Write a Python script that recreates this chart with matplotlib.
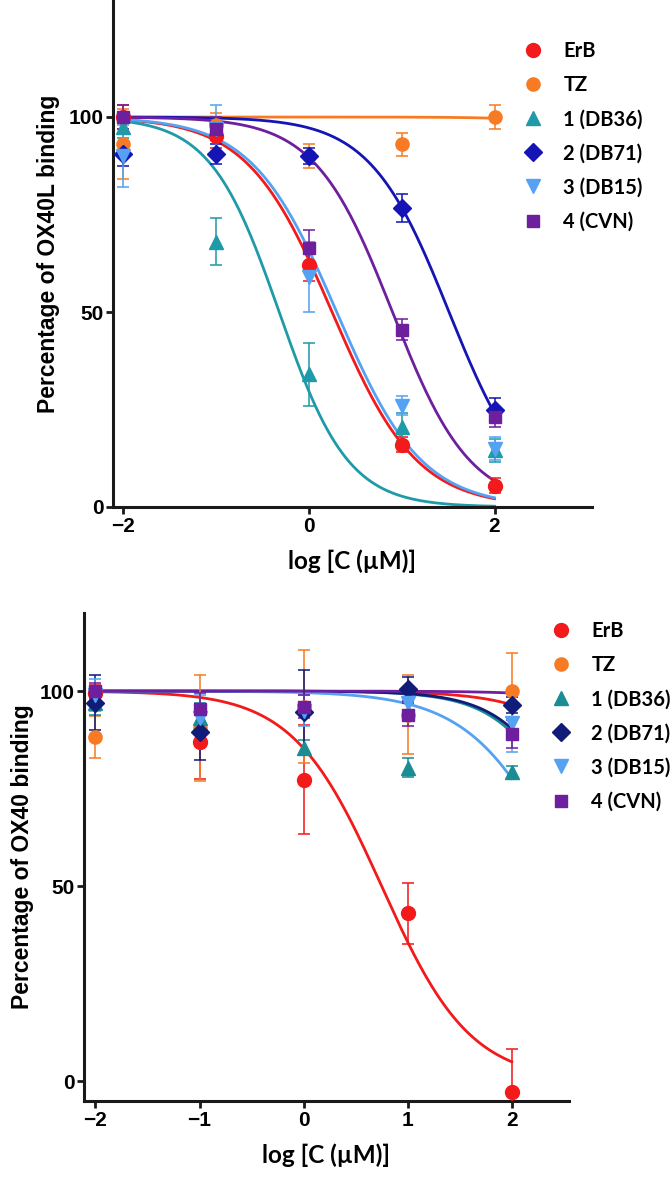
import numpy as np
import matplotlib
matplotlib.use('Agg')
import matplotlib.pyplot as plt
from matplotlib.lines import Line2D
from matplotlib.font_manager import FontProperties

# log concentration (uM)
log_c = [-2, -1, 0, 1, 2]
labels = ['ErB', 'TZ', '1 (DB36)', '2 (DB71)', '3 (DB15)', '4 (CVN)']

# top panel: OX40L binding (%)
ox40l_mean = {
    'ErB':      [100, 95, 62, 16, 5.5],
    'TZ':       [93, 98, 90, 93, 100],
    '1 (DB36)': [97.5, 68, 34, 20.5, 14.5],
    '2 (DB71)': [90.5, 90.5, 90, 76.7, 25],
    '3 (DB15)': [90, 97, 59, 26, 15],
    '4 (CVN)':  [100, 97, 66.5, 45.5, 23],
}
ox40l_err = {
    'ErB':      [3, 3, 4, 2, 2],
    'TZ':       [9, 3, 3, 3, 3],
    '1 (DB36)': [3, 6, 8, 3.5, 3],
    '2 (DB71)': [3, 2.5, 2, 3.5, 3],
    '3 (DB15)': [8, 6, 9, 2.5, 3],
    '4 (CVN)':  [3, 3, 4.5, 2.7, 2.5],
}
# fitted curves: logIC50, hill slope
ox40l_ic50 = [0.25, 4.5, -0.32, 1.51, 0.30, 0.90]
ox40l_hill = [0.95, 1.0, 1.17, 1.02, 0.95, 1.04]

# bottom panel: OX40 binding (%)
ox40_mean = {
    'ErB':      [99.5, 87, 77.3, 43.1, -2.6],
    'TZ':       [88.3, 90.5, 96, 94, 100],
    '1 (DB36)': [97, 93, 85.5, 80.4, 79.3],
    '2 (DB71)': [97, 89.4, 94.6, 100.5, 96.4],
    '3 (DB15)': [99, 93, 95, 97, 91.8],
    '4 (CVN)':  [100, 95.4, 96, 94, 89],
}
ox40_err = {
    'ErB':      [2, 9.5, 14, 7.8, 10.8],
    'TZ':       [5.4, 13.5, 14.5, 10, 9.7],
    '1 (DB36)': [3, 4, 2, 2.5, 1.5],
    '2 (DB71)': [7, 7, 10.8, 3, 2],
    '3 (DB15)': [4, 6, 4, 3, 7.5],
    '4 (CVN)':  [2, 4, 3, 3, 3.5],
}
ox40_ic50 = [0.75, 3.44, 2.77, 2.81, 2.58, 4.3]
ox40_hill = [1.02, 1.0, 1.2, 1.2, 0.93, 1.0]

markers = ['o', 'o', '^', 'D', 'v', 's']
msizes = [10, 9.5, 10, 9, 10, 8.5]
colors_top = ['#f21a1a', '#f77b25', '#1f9aa8', '#1515b5', '#55a2f2', '#6e1f9e']
colors_bot = ['#f21a1a', '#f77b25', '#1a8c94', '#101c78', '#55a2f2', '#6e1f9e']
curve_bot = ['#f21a1a', '#f21a1a', '#1a8c94', '#101c78', '#55a2f2', '#6e1f9e']

tick_fp = FontProperties(family='Liberation Sans', weight='bold', size=15)
lab_font = {'family': 'Liberation Sans', 'weight': 'bold', 'size': 16.5}
cal_font = {'family': 'Lato', 'weight': 'bold', 'size': 17.5}


def style_axes(ax, xticks):
    for s in ['top', 'right']:
        ax.spines[s].set_visible(False)
    for s in ['left', 'bottom']:
        ax.spines[s].set_linewidth(2.2)
        ax.spines[s].set_color('#1a1a1a')
    ax.tick_params(width=2.0, length=5, direction='out', color='#1a1a1a', pad=2)
    ax.set_xticks(xticks)
    ax.set_yticks([0, 50, 100])
    for t in ax.get_xticklabels() + ax.get_yticklabels():
        t.set_fontproperties(tick_fp)


def draw_panel(ax, means, errs, ic50, hill, colors, curve_colors):
    xs = np.linspace(-2, 2, 300)
    for i, lab in enumerate(labels):
        ys = 100 / (1 + 10 ** ((xs - ic50[i]) * hill[i]))
        ax.plot(xs, ys, color=curve_colors[i], lw=2.0, zorder=2)
    for i, lab in enumerate(labels):
        ax.errorbar(log_c, means[lab], yerr=errs[lab], fmt='none',
                    ecolor=colors[i], elinewidth=1.4, capsize=4.5, capthick=1.4,
                    alpha=0.8, zorder=3)
        ax.plot(log_c, means[lab], ls='none', marker=markers[i], ms=msizes[i],
                color=colors[i], mec=colors[i], zorder=4)


def add_legend(ax, colors, x0, y0):
    handles = [Line2D([], [], ls='none', marker=markers[i], ms=msizes[i],
                      color=colors[i]) for i in range(len(labels))]
    leg = ax.legend(handles, labels, loc='upper left', bbox_to_anchor=(x0, y0),
                    bbox_transform=ax.figure.transFigure, frameon=False,
                    handlelength=1.0, handletextpad=1.0, labelspacing=0.7,
                    borderpad=0, prop={'family': 'Lato', 'weight': 'bold', 'size': 14.5})
    return leg


fig = plt.figure(figsize=(6.7, 11.82), dpi=100)

# top panel
ax1 = fig.add_axes([113 / 670, 1 - 507 / 1182, 479 / 670, 507 / 1182])
draw_panel(ax1, ox40l_mean, ox40l_err, ox40l_ic50, ox40l_hill, colors_top, colors_top)
ax1.set_xlim(-2.11, 3.05)
ax1.set_ylim(0, 130)
style_axes(ax1, [-2, 0, 2])
ax1.set_ylabel('Percentage of OX40L binding', fontdict=lab_font, labelpad=6)
ax1.set_xlabel('log [C (\u00b5M)]', fontdict=cal_font, labelpad=10)
add_legend(ax1, colors_top, 513 / 670, 1 - 31 / 1182)

# bottom panel
ax2 = fig.add_axes([84 / 670, 1 - 1101 / 1182, 485 / 670, 488 / 1182])
draw_panel(ax2, ox40_mean, ox40_err, ox40_ic50, ox40_hill, colors_bot, curve_bot)
ax2.set_xlim(-2.11, 2.55)
ax2.set_ylim(-5, 120)
style_axes(ax2, [-2, -1, 0, 1, 2])
ax2.set_ylabel('Percentage of OX40 binding', fontdict=lab_font, labelpad=4)
ax2.set_xlabel('log [C (\u00b5M)]', fontdict=cal_font, labelpad=10)
add_legend(ax2, colors_bot, 541 / 670, 1 - 611 / 1182)

fig.savefig('out.png', dpi=100)
